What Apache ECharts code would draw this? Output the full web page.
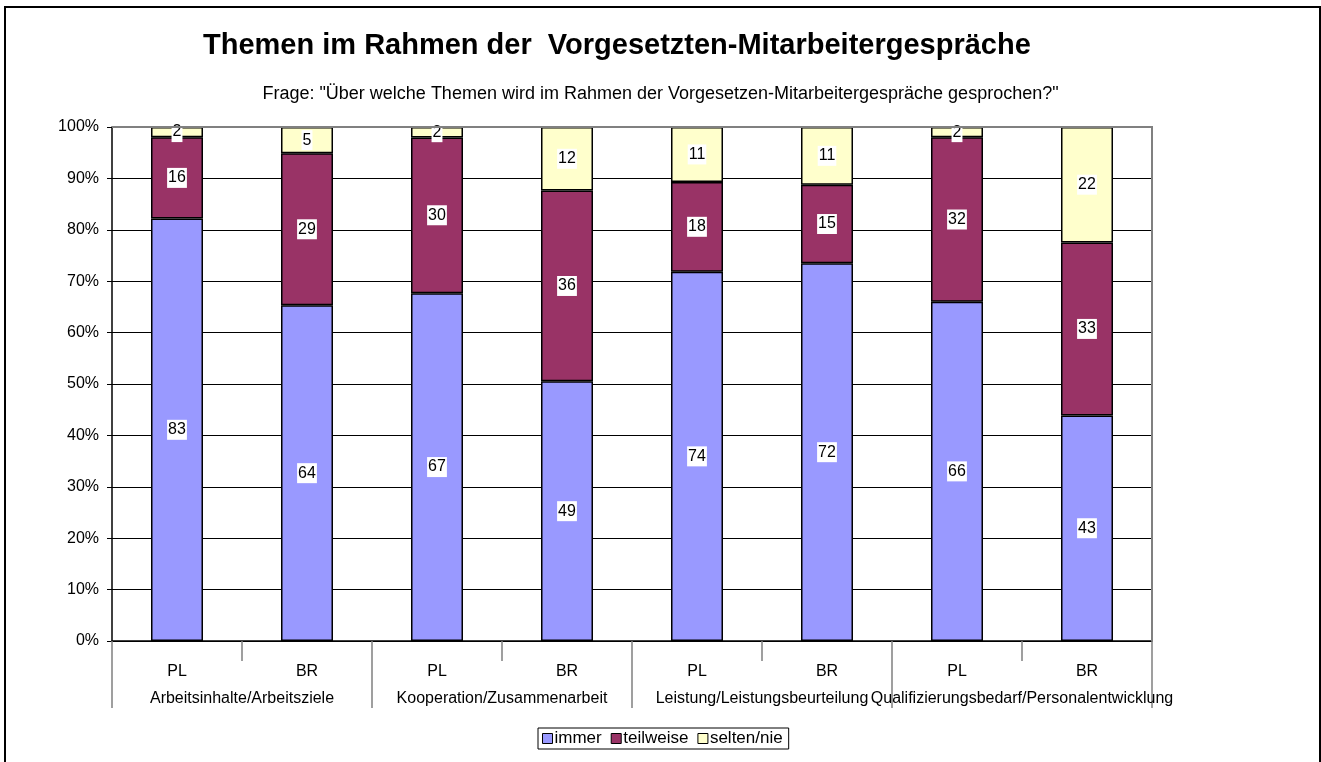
<!DOCTYPE html>
<html>
<head>
<meta charset="utf-8">
<script src="https://cdn.jsdelivr.net/npm/echarts@6/dist/echarts.min.js"></script>
<style>
  html, body { margin: 0; padding: 0; background: #fff; }
  #chart { width: 1321px; height: 762px; }
</style>
</head>
<body>
<div id="chart"></div>
<script>
const groups = ['Arbeitsinhalte/Arbeitsziele', 'Kooperation/Zusammenarbeit', 'Leistung/Leistungsbeurteilung', 'Qualifizierungsbedarf/Personalentwicklung']
const subCats = ['PL', 'BR', 'PL', 'BR', 'PL', 'BR', 'PL', 'BR']
const immer = [83, 64, 67, 49, 74, 72, 66, 43]
const teilweise = [16, 29, 30, 36, 18, 15, 32, 33]
const seltenNie = [2, 5, 2, 12, 11, 11, 2, 22]

const totals = immer.map((v, i) => v + teilweise[i] + seltenNie[i])
const pct = (arr) => arr.map((v, i) => ({ value: v / totals[i] * 100, raw: v }))

const myChart = echarts.init(document.getElementById('chart'), null, { renderer: 'canvas' })

const fontFam = 'Liberation Sans, Arial, sans-serif'

const labelStyle = {
	show: true,
	position: 'inside',
	color: '#000',
	fontFamily: fontFam,
	fontSize: 16,
	backgroundColor: '#fff',
	padding: [3, 1, 1, 1],
	formatter: (p) => p.data.raw,
}

const mkSeries = (name, arr, color) => ({
	name: name,
	type: 'bar',
	stack: 'all',
	barWidth: 52,
	data: pct(arr),
	itemStyle: { color: color, borderColor: '#000', borderWidth: 1.5 },
	label: labelStyle,
})

let option = {
	animation: false,
	textStyle: { fontFamily: fontFam },
	title: [
		{
			text: 'Themen im Rahmen der  Vorgesetzten-Mitarbeitergespräche',
			left: 198,
			top: 26,
			textStyle: { fontFamily: fontFam, fontWeight: 'bold', fontSize: 29, color: '#000' },
		},
		{
			text: 'Frage: "Über welche Themen wird im Rahmen der Vorgesetzen-Mitarbeitergespräche gesprochen?"',
			left: 'center',
			top: 80,
			textStyle: { fontFamily: fontFam, fontWeight: 'normal', fontSize: 18, color: '#000' },
		},
	],
	graphic: [
		{
			type: 'rect',
			shape: { x: 5, y: 7, width: 1315, height: 800 },
			style: { fill: 'none', stroke: '#000', lineWidth: 2 },
			silent: true,
		},
		{
			type: 'polyline',
			shape: { points: [[112, 127], [1152, 127], [1152, 641]] },
			style: { stroke: '#808080', lineWidth: 2, fill: 'none' },
			silent: true,
			z: 5,
		},
	],
	legend: {
		data: ['immer', 'teilweise', 'selten/nie'],
		left: 538,
		top: 728,
		itemWidth: 10,
		itemHeight: 10,
		itemGap: 9,
		padding: [2, 6, 2, 4],
		borderColor: '#000',
		borderWidth: 1,
		icon: 'rect',
		itemStyle: { borderColor: '#000', borderWidth: 1 },
		textStyle: { fontFamily: fontFam, fontSize: 17, color: '#000', padding: [0, 0, 0, -3] },
	},
	grid: { left: 112, right: 169, top: 127, bottom: 121, containLabel: false },
	xAxis: [
		{
			type: 'category',
			data: subCats,
			position: 'bottom',
			axisLine: { lineStyle: { color: '#000', width: 1.5 } },
			axisTick: { show: true, length: 20, lineStyle: { color: '#808080', width: 1.5 } },
			axisLabel: { color: '#000', fontSize: 16, margin: 23 },
		},
		{
			type: 'category',
			data: groups,
			position: 'bottom',
			axisLine: { show: false },
			axisTick: { show: true, length: 67, lineStyle: { color: '#808080', width: 1.5 } },
			axisLabel: { color: '#000', fontSize: 16, margin: 50, interval: 0 },
		},
	],
	yAxis: {
		type: 'value',
		min: 0,
		max: 100,
		interval: 10,
		axisLine: { show: true, lineStyle: { color: '#000', width: 1.5 } },
		axisTick: { show: true, length: 5, lineStyle: { color: '#000' } },
		axisLabel: { color: '#000', fontSize: 16, margin: 13, formatter: '{value}%' },
		splitLine: { lineStyle: { color: '#000', width: 1 } },
	},
	series: [
		mkSeries('immer', immer, '#9999FF'),
		mkSeries('teilweise', teilweise, '#993366'),
		mkSeries('selten/nie', seltenNie, '#FFFFCC'),
	],
}
myChart.setOption(option)

window.addEventListener('resize', () => {
	myChart.resize()
})
</script>
</body>
</html>
